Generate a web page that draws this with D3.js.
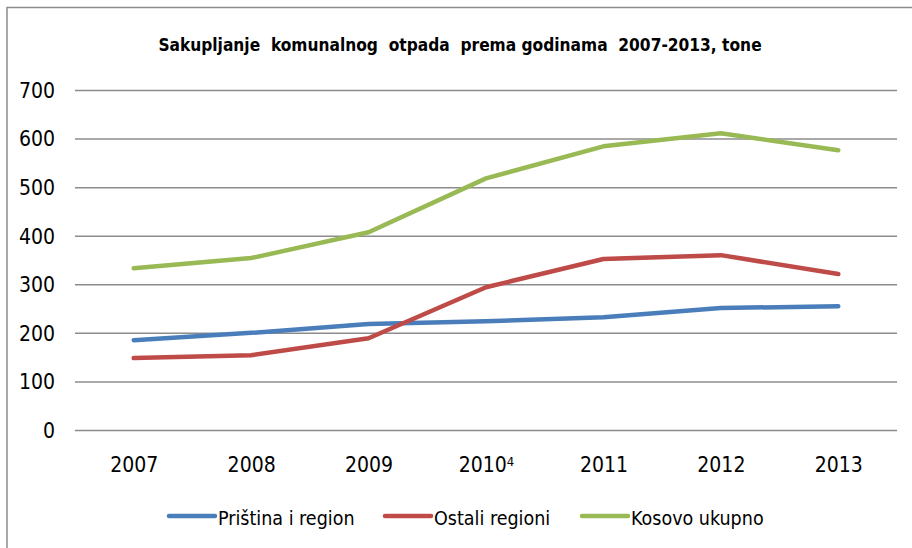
<!DOCTYPE html>
<html>
<head>
<meta charset="utf-8" />
<title></title>
<style>
html, body {
    padding: 0px;
    margin: 0px;
    width: 100%;
    height: 100%;
    background: #fff;
}
text {
    font-family: "Liberation Sans Narrow", "Arial Narrow", "DejaVu Sans Condensed", sans-serif;
    fill: #000;
}
</style>
</head>
<body>
<svg id="chart" width="912" height="548"></svg>

<script src="https://cdnjs.cloudflare.com/ajax/libs/d3/7.8.5/d3.min.js"></script>
<script>
!(function(){
    "use strict"

    // godine i fusnote
    var years = ["2007", "2008", "2009", "2010", "2011", "2012", "2013"]
    var yearNotes = ["", "", "", "4", "", "", ""]

    // vrijednosti (tone) ocitane sa slike
    var pristina = [185, 200, 218, 224, 232, 251, 255]
    var ostali   = [148, 154, 189, 294, 352, 360, 321]
    var kosovo   = [333, 354, 407, 518, 584, 611, 576]

    var yTicks = [0, 100, 200, 300, 400, 500, 600, 700]

    var seriesNames = ["Priština i region", "Ostali regioni", "Kosovo ukupno"]
    var seriesColors = ["#4a7ebb", "#be4b48", "#98b954"]

    var title = "Sakupljanje  komunalnog  otpada  prema godinama  2007-2013, tone"

    var svg = d3.select("#chart")

    // okvir (samo gornja i lijeva ivica vidljiva)
    svg.append("line").attr("x1", 7).attr("x2", 912).attr("y1", 7.5).attr("y2", 7.5)
        .attr("stroke", "#8c8c8c").attr("stroke-width", 1.5)
    svg.append("line").attr("x1", 7).attr("x2", 7).attr("y1", 7).attr("y2", 548)
        .attr("stroke", "#8c8c8c").attr("stroke-width", 1.5)

    svg.append("text")
        .attr("x", 460).attr("y", 51)
        .attr("text-anchor", "middle")
        .style("font-weight", "bold")
        .style("font-size", "17.2px")
        .style("white-space", "pre")
        .text(title)

    var x = d3.scalePoint().domain(years).range([75, 897]).padding(0.5)
    var y = d3.scaleLinear().domain([0, 700]).range([430, 90])

    // mreza
    svg.append("g")
        .attr("transform", "translate(75,0)")
        .call(d3.axisLeft(y).tickValues(yTicks).tickSize(-822).tickFormat(function(d){ return d }))
        .call(function(g){
            g.select(".domain").remove()
            g.selectAll(".tick line").attr("stroke", "#8c8c8c").attr("stroke-width", 1.5)
            g.selectAll(".tick text")
                .attr("x", -20)
                .attr("dy", "0.35em")
                .style("font-size", "21px")
                .attr("fill", "#000")
        })

    // x osa
    var xa = svg.append("g")
        .attr("transform", "translate(0,430)")
        .call(d3.axisBottom(x).tickSize(0))
    xa.select(".domain").remove()
    xa.selectAll(".tick text")
        .attr("y", 35)
        .attr("dy", "0.35em")
        .style("font-size", "21px")
        .attr("fill", "#000")
        .each(function(d, i){
            if (yearNotes[i]) {
                d3.select(this).append("tspan")
                    .attr("dy", "-0.5em")
                    .style("font-size", "13px")
                    .text(yearNotes[i])
            }
        })

    var data = [pristina, ostali, kosovo]
    var line = d3.line()
        .x(function(d, i){ return x(years[i]) })
        .y(function(d){ return y(d) })

    svg.selectAll("path.series")
        .data(data)
        .enter()
        .append("path")
        .attr("class", "series")
        .attr("d", line)
        .attr("fill", "none")
        .attr("stroke", function(d, i){ return seriesColors[i] })
        .attr("stroke-width", 4.5)
        .attr("stroke-linecap", "round")
        .attr("stroke-linejoin", "round")

    // legenda
    var legendX = [169, 385, 582]
    var lg = svg.selectAll("g.legend")
        .data(seriesNames)
        .enter()
        .append("g")
        .attr("class", "legend")
        .attr("transform", function(d, i){ return "translate(" + legendX[i] + ",516)" })
    lg.append("line")
        .attr("x1", 0).attr("x2", 46)
        .attr("stroke", function(d, i){ return seriesColors[i] })
        .attr("stroke-width", 4.5)
        .attr("stroke-linecap", "round")
    lg.append("text")
        .attr("x", 49)
        .attr("y", 2)
        .attr("dy", "0.35em")
        .style("font-size", "19.5px")
        .text(function(d){ return d })

}());
</script>
</body>
</html>
